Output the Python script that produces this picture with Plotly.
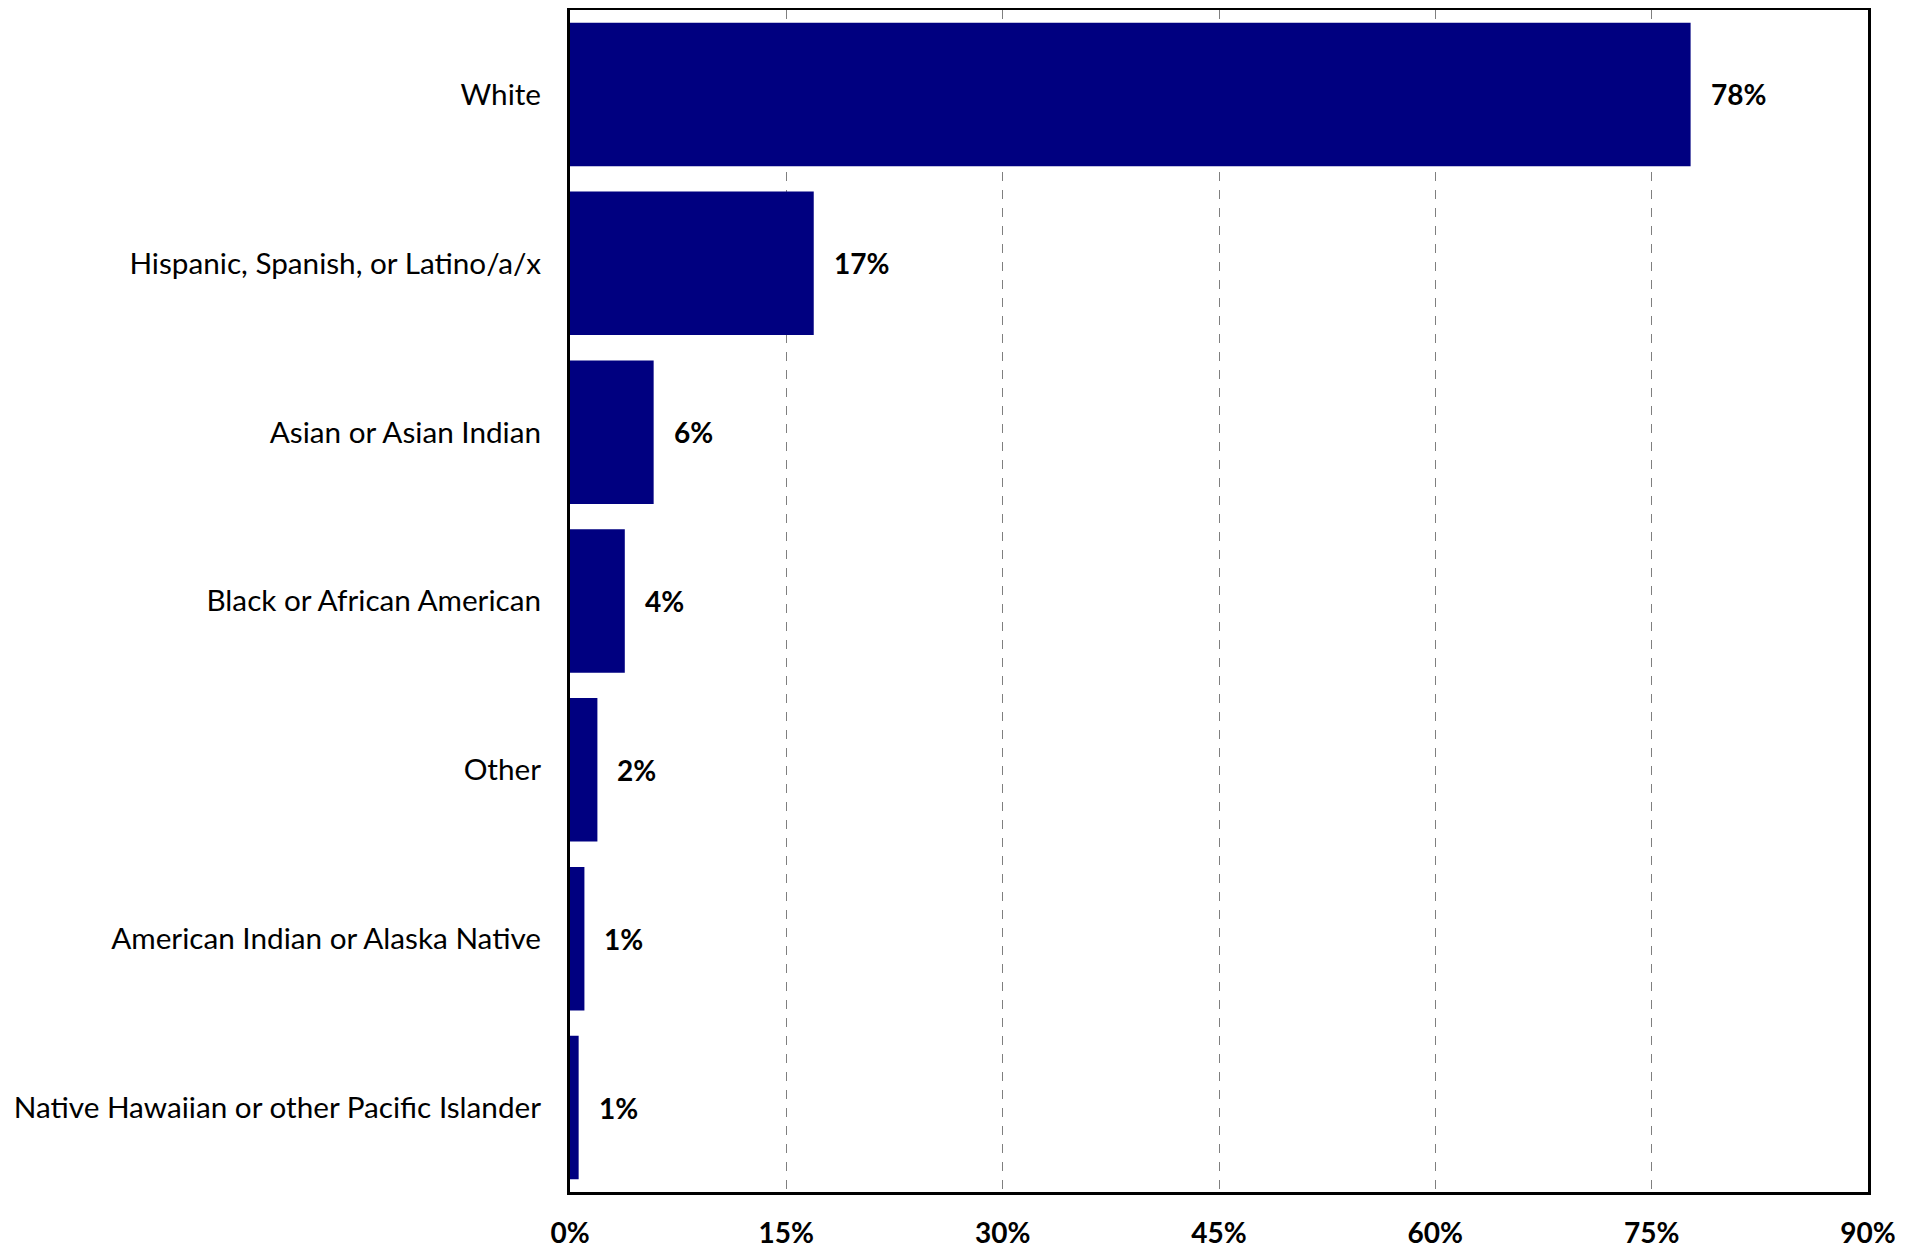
import plotly.graph_objects as go

categories = [
    "White",
    "Hispanic, Spanish, or Latino/a/x",
    "Asian or Asian Indian",
    "Black or African American",
    "Other",
    "American Indian or Alaska Native",
    "Native Hawaiian or other Pacific Islander",
]
values = [77.7, 16.9, 5.8, 3.8, 1.9, 1.0, 0.6]
labels = ["78%", "17%", "6%", "4%", "2%", "1%", "1%"]
tick_vals = [0, 15, 30, 45, 60, 75, 90]
tick_text = ["0%", "15%", "30%", "45%", "60%", "75%", "90%"]

FONT = "Lato, 'Open Sans', sans-serif"

fig = go.Figure()
fig.add_trace(go.Bar(
    x=values,
    y=categories,
    orientation="h",
    marker=dict(color="#000080", line=dict(width=0)),
    hoverinfo="skip",
))

for c, v, t in zip(categories, values, labels):
    fig.add_annotation(
        x=v, y=c, text=t, showarrow=False,
        xanchor="left", yanchor="middle", xshift=18,
        font=dict(family=FONT, size=28, color="black", weight="bold"),
    )

fig.update_layout(
    width=1905, height=1240,
    margin=dict(l=562, r=45, t=2, b=56),
    paper_bgcolor="white", plot_bgcolor="white",
    showlegend=False,
    bargap=0.15,
    font=dict(family=FONT, color="black"),
)
fig.update_xaxes(
    range=[0, 90],
    tickvals=tick_vals, ticktext=tick_text,
    tickfont=dict(family=FONT, size=28, color="black", weight="bold"),
    showgrid=True, gridcolor="#7f7f7f", griddash="dash", gridwidth=1,
    showline=True, linecolor="black", linewidth=3, mirror=True,
    zeroline=False, automargin=False,
    ticks="", ticklabelstandoff=14,
)
fig.update_yaxes(
    categoryorder="array", categoryarray=categories[::-1],
    tickfont=dict(family=FONT, size=29.7, color="black"),
    showgrid=False, automargin=False,
    showline=True, linecolor="black", linewidth=3, mirror=True,
    ticks="", ticklabelstandoff=20,
)

fig.write_html("out.html")
